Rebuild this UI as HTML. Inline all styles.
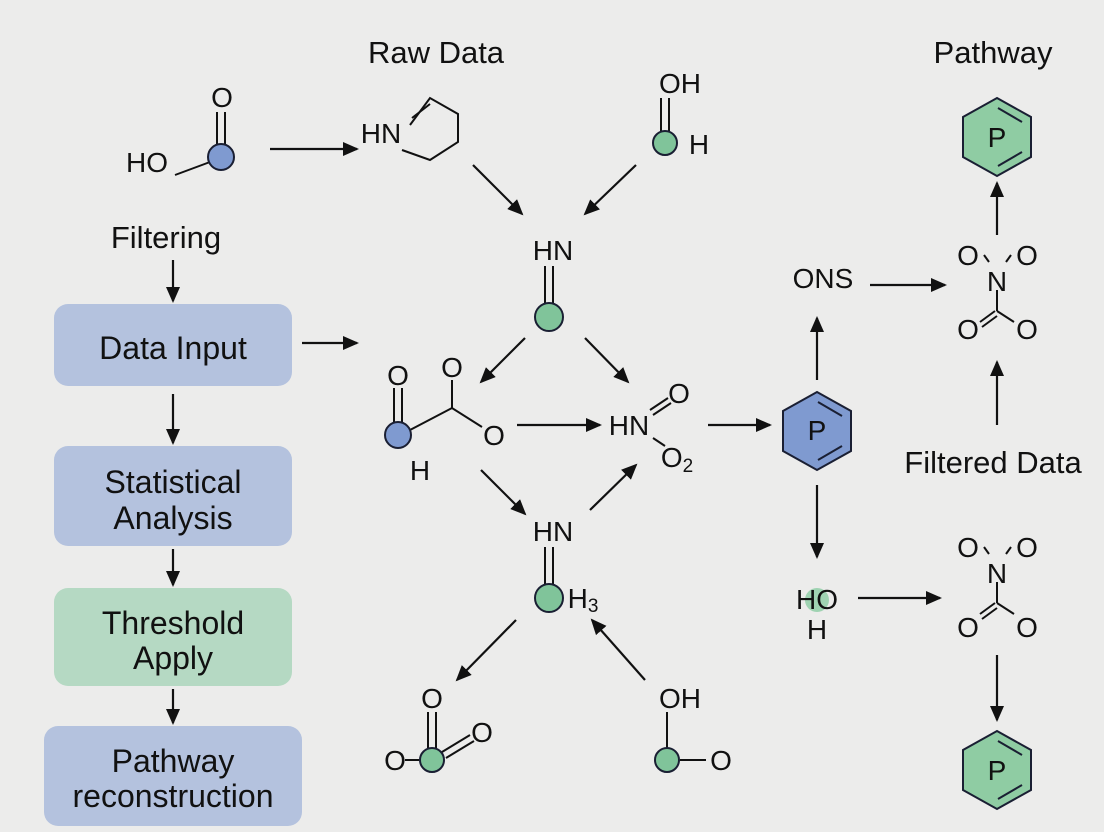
<!DOCTYPE html>
<html><head><meta charset="utf-8"><style>
html,body{margin:0;padding:0;background:#ececeb;}
svg{display:block;font-family:"Liberation Sans",sans-serif;}
</style></head><body>
<svg width="1104" height="832" viewBox="0 0 1104 832">
<defs>
<marker id="b" markerWidth="16" markerHeight="14" refX="14" refY="7" orient="auto" markerUnits="userSpaceOnUse" viewBox="0 0 16 14">
<path d="M0,0 L16,7 L0,14 z" fill="#111"/></marker>
</defs>
<rect width="1104" height="832" fill="#ececeb"/>
<g fill="#111" font-size="31" text-anchor="middle">
<text x="436" y="63">Raw Data</text>
<text x="993" y="63">Pathway</text>
<text x="166" y="248">Filtering</text>
<text x="993" y="473">Filtered Data</text>
</g>
<rect x="54" y="304" width="238" height="82" rx="14" fill="#b4c2de"/>
<rect x="54" y="446" width="238" height="100" rx="14" fill="#b4c2de"/>
<rect x="54" y="588" width="238" height="98" rx="14" fill="#b5d9c3"/>
<rect x="44" y="726" width="258" height="100" rx="14" fill="#b4c2de"/>
<g fill="#111" font-size="32" text-anchor="middle">
<text x="173" y="359">Data Input</text>
<text x="173" y="493">Statistical</text>
<text x="173" y="529">Analysis</text>
<text x="173" y="634">Threshold</text>
<text x="173" y="669">Apply</text>
<text x="173" y="772">Pathway</text>
<text x="173" y="807">reconstruction</text>
</g>
<g stroke="#111" stroke-width="2.2" fill="none" marker-end="url(#b)">
<line x1="173" y1="260" x2="173" y2="301"/>
<line x1="173" y1="394" x2="173" y2="443"/>
<line x1="173" y1="549" x2="173" y2="585"/>
<line x1="173" y1="689" x2="173" y2="723"/>
<line x1="270" y1="149" x2="357" y2="149"/>
<line x1="302" y1="343" x2="357" y2="343"/>
<line x1="473" y1="165" x2="522" y2="214"/>
<line x1="636" y1="165" x2="585" y2="214"/>
<line x1="525" y1="338" x2="481" y2="382"/>
<line x1="585" y1="338" x2="628" y2="382"/>
<line x1="517" y1="425" x2="600" y2="425"/>
<line x1="708" y1="425" x2="770" y2="425"/>
<line x1="481" y1="470" x2="525" y2="514"/>
<line x1="590" y1="510" x2="636" y2="465"/>
<line x1="516" y1="620" x2="457" y2="680"/>
<line x1="645" y1="680" x2="592" y2="620"/>
<line x1="817" y1="380" x2="817" y2="318"/>
<line x1="870" y1="285" x2="945" y2="285"/>
<line x1="997" y1="235" x2="997" y2="183"/>
<line x1="997" y1="425" x2="997" y2="362"/>
<line x1="817" y1="485" x2="817" y2="557"/>
<line x1="858" y1="598" x2="940" y2="598"/>
<line x1="997" y1="655" x2="997" y2="720"/>
</g>
<g stroke="#111" stroke-width="2" fill="none">
<line x1="217" y1="112" x2="217" y2="145"/><line x1="225" y1="112" x2="225" y2="145"/>
<line x1="175" y1="175" x2="210" y2="162"/>
<path d="M410,125 L430,98 L458,114 L458,142 L430,160 L402,150"/>
<line x1="412" y1="118" x2="430" y2="104"/>
<line x1="661" y1="98" x2="661" y2="131"/><line x1="669" y1="98" x2="669" y2="131"/>
<line x1="545" y1="266" x2="545" y2="305"/><line x1="553" y1="266" x2="553" y2="305"/>
<line x1="394" y1="388" x2="394" y2="424"/><line x1="402" y1="388" x2="402" y2="424"/>
<path d="M410,430 L452,408 L482,427"/><line x1="452" y1="380" x2="452" y2="408"/>
<line x1="650" y1="410" x2="668" y2="398"/><line x1="653" y1="415" x2="671" y2="403"/>
<line x1="653" y1="438" x2="665" y2="446"/>
<line x1="545" y1="547" x2="545" y2="586"/><line x1="553" y1="547" x2="553" y2="586"/>
<line x1="428" y1="712" x2="428" y2="748"/><line x1="436" y1="712" x2="436" y2="748"/>
<line x1="442" y1="752" x2="470" y2="735"/><line x1="446" y1="758" x2="474" y2="741"/>
<line x1="405" y1="760" x2="419" y2="760"/>
<line x1="667" y1="712" x2="667" y2="748"/><line x1="680" y1="760" x2="706" y2="760"/>
<g>
<line x1="984" y1="255" x2="989" y2="262"/><line x1="1011" y1="255" x2="1006" y2="262"/>
<line x1="997" y1="290" x2="997" y2="311"/><line x1="997" y1="311" x2="1014" y2="322"/>
<line x1="980" y1="322" x2="995" y2="311"/><line x1="982" y1="327" x2="997" y2="316"/>
</g>
<g transform="translate(0,292)">
<line x1="984" y1="255" x2="989" y2="262"/><line x1="1011" y1="255" x2="1006" y2="262"/>
<line x1="997" y1="290" x2="997" y2="311"/><line x1="997" y1="311" x2="1014" y2="322"/>
<line x1="980" y1="322" x2="995" y2="311"/><line x1="982" y1="327" x2="997" y2="316"/>
</g>
</g>
<g stroke="#1a1f33" stroke-width="2">
<circle cx="221" cy="157" r="13" fill="#7f9ad0"/>
<circle cx="665" cy="143" r="12" fill="#80c49a"/>
<circle cx="549" cy="317" r="14" fill="#80c49a"/>
<circle cx="398" cy="435" r="13" fill="#7f9ad0"/>
<circle cx="549" cy="598" r="14" fill="#80c49a"/>
<circle cx="432" cy="760" r="12" fill="#80c49a"/>
<circle cx="667" cy="760" r="12" fill="#80c49a"/>
<polygon points="817,392 851,411 851,451 817,470 783,451 783,411" fill="#7f9ad0"/>
<polygon points="997,98 1031,117 1031,157 997,176 963,157 963,117" fill="#8fcca3"/>
<polygon points="997,731 1031,750 1031,790 997,809 963,790 963,750" fill="#8fcca3"/>
</g>
<g stroke="#1a1f33" stroke-width="2">
<line x1="818" y1="402" x2="842" y2="416"/><line x1="818" y1="460" x2="842" y2="446"/>
<line x1="998" y1="108" x2="1022" y2="122"/><line x1="998" y1="166" x2="1022" y2="152"/>
<line x1="998" y1="741" x2="1022" y2="755"/><line x1="998" y1="799" x2="1022" y2="785"/>
</g>
<circle cx="817" cy="600" r="12" fill="#9fd3b2"/>
<g fill="#111" font-size="28" text-anchor="middle">
<text x="222" y="107">O</text>
<text x="147" y="172">HO</text>
<text x="381" y="143">HN</text>
<text x="680" y="93">OH</text>
<text x="699" y="154">H</text>
<text x="553" y="260">HN</text>
<text x="398" y="385">O</text>
<text x="452" y="377">O</text>
<text x="494" y="445">O</text>
<text x="420" y="480">H</text>
<text x="629" y="435">HN</text>
<text x="679" y="403">O</text>
<text x="677" y="467">O<tspan font-size="19" dy="5">2</tspan></text>
<text x="553" y="541">HN</text>
<text x="583" y="608">H<tspan font-size="19" dy="4">3</tspan></text>
<text x="432" y="708">O</text>
<text x="482" y="742">O</text>
<text x="395" y="770">O</text>
<text x="680" y="708">OH</text>
<text x="721" y="770">O</text>
<text x="817" y="440">P</text>
<text x="997" y="147">P</text>
<text x="997" y="780">P</text>
<text x="823" y="288">ONS</text>
<text x="817" y="609">HO</text>
<text x="817" y="639">H</text>
<text x="968" y="265">O</text><text x="1027" y="265">O</text>
<text x="997" y="291">N</text>
<text x="968" y="339">O</text><text x="1027" y="339">O</text>
<text x="968" y="557">O</text><text x="1027" y="557">O</text>
<text x="997" y="583">N</text>
<text x="968" y="637">O</text><text x="1027" y="637">O</text>
</g>
</svg>
</body></html>
